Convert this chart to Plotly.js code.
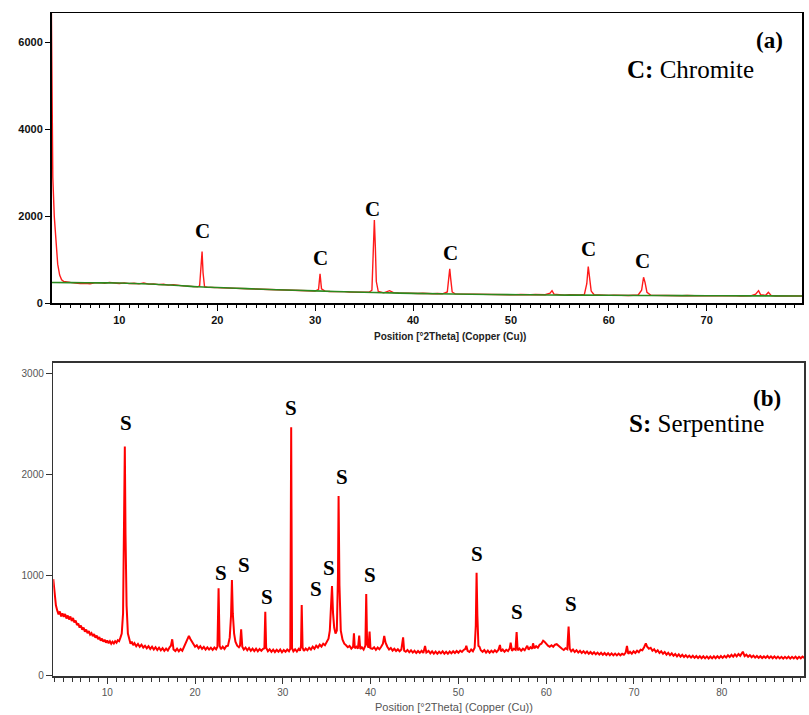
<!DOCTYPE html>
<html>
<head>
<meta charset="utf-8">
<script src="https://cdn.plot.ly/plotly-3.0.1.min.js"></script>
<style>html,body{margin:0;padding:0;background:#fff;}#chart{width:809px;height:715px;}</style>
</head>
<body>
<div id="chart"></div>
<script>
// ---------- Panel (a): chromite pattern, [2theta, counts] ----------
const chromitePattern = [
[3.05,6900],[3.12,3600],[3.2,2900],[3.35,2000],[3.5,1400],[3.7,900],[3.9,650],[4.1,540],[4.3,505],[4.6,490],
[5.0,480],[5.5,468],[6.0,455],[6.5,462],[7.0,448],[7.5,470],[8.0,476],[8.5,462],[9.0,480],[9.5,468],
[10.0,456],[10.5,470],[11.0,452],[11.5,462],[12.0,446],[12.5,468],[13.0,440],[13.5,446],[14.0,428],[14.5,438],
[15.0,418],[15.5,428],[16.0,408],[16.5,400],[17.0,394],[17.5,384],[18.0,378],[18.2,400],[18.35,800],[18.45,1188],
[18.55,700],[18.7,380],[19.0,370],[19.5,372],[20.0,360],[20.5,354],[21.0,350],[21.5,346],[22.0,344],[22.5,336],
[23.0,334],[23.5,328],[24.0,320],[24.5,324],[25.0,316],[25.5,310],[26.0,312],[26.5,300],[27.0,298],[27.5,302],
[28.0,290],[28.5,294],[29.0,285],[29.5,288],[30.0,282],[30.35,320],[30.5,675],[30.65,330],[31.0,278],[31.5,270],
[32.0,272],[32.5,262],[33.0,268],[33.5,258],[34.0,255],[34.5,262],[35.0,250],[35.5,252],[35.8,300],[35.95,1200],
[36.05,1918],[36.15,1300],[36.25,500],[36.45,270],[37.0,240],[37.6,290],[38.0,245],[38.5,238],[39.0,232],[39.5,236],
[40.0,228],[40.5,226],[41.0,230],[41.5,222],[42.0,220],[42.5,224],[43.0,218],[43.5,260],[43.65,600],[43.75,790],
[43.85,560],[44.0,260],[44.3,215],[45.0,212],[45.5,205],[46.0,210],[46.5,200],[47.0,205],[47.5,198],[48.0,200],
[48.5,195],[49.0,200],[49.5,192],[50.0,198],[50.5,195],[51.0,200],[51.5,192],[52.0,196],[52.5,200],[53.0,190],
[53.5,195],[54.0,230],[54.2,290],[54.4,210],[55.0,192],[55.5,188],[56.0,195],[56.5,185],[57.0,190],[57.5,200],
[57.75,450],[57.9,843],[58.05,600],[58.2,280],[58.5,195],[59.0,185],[59.5,190],[60.0,182],[60.5,188],[61.0,180],
[61.5,186],[62.0,178],[62.5,185],[63.0,190],[63.35,300],[63.55,599],[63.7,480],[63.9,250],[64.3,185],[65.0,180],
[65.5,176],[66.0,182],[66.5,175],[67.0,180],[67.5,172],[68.0,178],[68.5,170],[69.0,175],[69.5,170],[70.0,176],
[70.5,168],[71.0,174],[71.5,170],[72.0,175],[72.5,168],[73.0,172],[73.5,168],[74.0,175],[74.5,170],[75.0,210],
[75.3,290],[75.5,200],[76.0,180],[76.3,250],[76.6,175],[77.0,168],[77.5,172],[78.0,165],[78.5,170],[79.0,166],[79.8,168]
];
const chromiteBackground = [
[3.07,478],[5,475],[8,470],[10,466],[13,445],[16,410],[18,380],[20,362],[23,336],[26,312],[30,285],[33,265],
[36,246],[40,228],[44,214],[48,202],[52,195],[56,188],[60,183],[65,178],[70,174],[75,170],[79.8,168]
];
const chromiteLabelTheta  = [18.52, 30.5, 35.88, 43.78, 57.9, 63.42];
const chromiteLabelCounts = [1672, 1043, 2171, 1158, 1250, 974];

// ---------- Panel (b): serpentine pattern, [2theta, counts] ----------
const serpentinePattern = [
[3.85,960],[3.95,860],[4.05,760],[4.15,700],[4.3,650],[4.45,610],[4.6,640],[4.75,590],[4.9,620],[5.05,585],
[5.2,615],[5.35,570],[5.5,600],[5.65,560],[5.8,590],[5.95,545],[6.1,575],[6.25,530],[6.4,550],[6.55,505],
[6.7,520],[6.85,480],[7.0,500],[7.15,460],[7.3,480],[7.45,440],[7.6,460],[7.75,425],[7.9,445],[8.05,410],
[8.2,425],[8.35,395],[8.5,415],[8.65,380],[8.8,400],[8.95,365],[9.1,385],[9.25,350],[9.4,370],[9.55,340],
[9.7,360],[9.85,330],[10.0,352],[10.15,325],[10.3,345],[10.45,320],[10.6,340],[10.75,322],[10.9,345],[11.05,330],
[11.2,355],[11.35,345],[11.5,380],[11.65,420],[11.8,620],[11.92,1500],[12.0,2273],[12.08,1400],[12.2,700],[12.35,420],
[12.5,350],[12.65,320],[12.8,340],[12.95,305],[13.1,325],[13.3,295],[13.5,318],[13.7,290],[13.9,310],[14.1,282],
[14.3,300],[14.5,275],[14.7,296],[14.9,268],[15.1,290],[15.3,262],[15.5,285],[15.7,258],[15.9,280],[16.1,255],
[16.3,276],[16.5,250],[16.7,272],[16.9,252],[17.1,285],[17.25,300],[17.4,364],[17.55,262],[17.75,248],[17.95,270],
[18.15,245],[18.35,268],[18.55,250],[18.75,290],[18.95,330],[19.1,360],[19.3,398],[19.45,370],[19.6,345],[19.8,315],
[20.0,290],[20.2,305],[20.4,275],[20.6,295],[20.8,268],[21.0,288],[21.2,262],[21.4,284],[21.6,262],[21.8,280],
[22.0,258],[22.2,282],[22.4,265],[22.55,290],[22.68,869],[22.8,300],[22.95,265],[23.15,290],[23.35,268],[23.55,295],
[23.75,300],[23.95,380],[24.1,600],[24.2,951],[24.3,620],[24.45,420],[24.6,340],[24.8,300],[25.0,285],[25.12,300],
[25.25,463],[25.38,290],[25.55,262],[25.75,282],[25.95,255],[26.15,278],[26.35,250],[26.55,272],[26.75,248],[26.95,270],
[27.15,245],[27.35,268],[27.55,250],[27.75,270],[27.9,275],[28.0,637],[28.1,280],[28.3,245],[28.5,265],[28.7,240],
[28.9,262],[29.1,238],[29.3,260],[29.5,240],[29.7,262],[29.9,235],[30.1,258],[30.3,240],[30.5,262],[30.7,245],
[30.85,270],[30.95,2465],[31.05,275],[31.2,245],[31.4,265],[31.6,242],[31.8,268],[31.95,250],[32.07,300],[32.15,704],
[32.25,280],[32.4,248],[32.6,272],[32.8,255],[33.0,280],[33.2,262],[33.4,290],[33.6,270],[33.8,300],[34.0,282],
[34.2,310],[34.4,292],[34.6,320],[34.8,305],[35.0,340],[35.2,370],[35.35,450],[35.5,700],[35.6,892],[35.72,620],
[35.85,480],[36.0,420],[36.15,450],[36.28,1000],[36.35,1784],[36.45,900],[36.6,450],[36.8,360],[37.0,320],[37.2,305],
[37.4,285],[37.6,298],[37.8,272],[38.0,290],[38.1,423],[38.2,275],[38.4,290],[38.55,270],[38.7,400],[38.82,268],
[39.0,285],[39.2,262],[39.4,300],[39.5,813],[39.6,320],[39.75,280],[39.88,440],[39.98,275],[40.2,268],[40.4,285],
[40.6,260],[40.8,282],[41.0,265],[41.2,290],[41.4,320],[41.55,396],[41.7,330],[41.9,290],[42.1,262],[42.3,278],
[42.5,252],[42.7,270],[42.9,248],[43.1,265],[43.3,245],[43.5,262],[43.7,383],[43.82,250],[44.0,240],[44.2,258],
[44.4,235],[44.6,255],[44.8,232],[45.0,250],[45.2,228],[45.4,248],[45.6,230],[45.8,250],[46.0,228],[46.2,297],
[46.35,232],[46.6,248],[46.8,225],[47.0,245],[47.2,222],[47.4,242],[47.6,220],[47.8,240],[48.0,225],[48.2,245],
[48.4,222],[48.6,240],[48.8,220],[49.0,242],[49.2,225],[49.4,245],[49.6,228],[49.8,248],[50.0,230],[50.2,252],
[50.4,238],[50.6,258],[50.8,270],[50.9,300],[51.05,250],[51.25,238],[51.45,262],[51.65,245],[51.85,280],[51.98,500],
[52.07,1024],[52.16,600],[52.28,300],[52.4,290],[52.55,255],[52.75,240],[52.95,258],[53.15,232],[53.35,252],[53.55,230],
[53.75,250],[53.95,235],[54.15,255],[54.35,238],[54.55,258],[54.73,307],[54.85,245],[55.05,262],[55.25,240],[55.45,260],
[55.65,248],[55.85,275],[55.95,330],[56.1,250],[56.3,270],[56.5,260],[56.63,436],[56.75,255],[56.95,272],[57.15,250],
[57.35,270],[57.55,255],[57.75,280],[57.84,300],[58.0,262],[58.2,285],[58.4,270],[58.5,324],[58.65,275],[58.85,295],
[59.05,280],[59.25,310],[59.45,320],[59.65,350],[59.8,340],[60.0,315],[60.2,300],[60.4,290],[60.6,305],[60.8,290],
[61.0,310],[61.2,315],[61.4,295],[61.6,285],[61.8,270],[62.0,258],[62.2,275],[62.4,265],[62.55,489],[62.68,270],
[62.85,245],[63.05,262],[63.25,238],[63.45,255],[63.65,232],[63.85,250],[64.05,228],[64.25,246],[64.45,225],[64.65,242],
[64.85,220],[65.05,238],[65.25,218],[65.45,235],[65.65,215],[65.85,232],[66.05,212],[66.25,230],[66.45,210],[66.65,228],
[66.85,208],[67.05,226],[67.25,206],[67.45,224],[67.65,205],[67.85,222],[68.05,204],[68.25,222],[68.45,205],[68.65,220],
[68.85,210],[69.05,232],[69.2,297],[69.35,220],[69.55,240],[69.75,222],[69.95,245],[70.15,228],[70.35,250],[70.55,235],
[70.75,260],[70.95,255],[71.15,285],[71.35,324],[71.5,290],[71.7,270],[71.9,280],[72.1,250],[72.3,265],[72.5,238],
[72.7,255],[72.9,228],[73.1,245],[73.3,220],[73.5,238],[73.7,212],[73.9,230],[74.1,206],[74.3,224],[74.5,200],
[74.7,218],[74.9,195],[75.1,214],[75.3,192],[75.5,210],[75.7,188],[75.9,206],[76.1,185],[76.3,202],[76.5,182],
[76.7,200],[76.9,180],[77.1,198],[77.3,178],[77.5,196],[77.7,176],[77.9,195],[78.1,175],[78.3,194],[78.5,174],
[78.7,193],[78.9,175],[79.1,195],[79.3,176],[79.5,196],[79.7,178],[79.9,198],[80.1,180],[80.3,200],[80.5,184],
[80.7,205],[80.9,188],[81.1,210],[81.3,192],[81.5,215],[81.7,195],[81.9,218],[82.1,200],[82.4,241],[82.6,198],
[82.8,212],[83.0,190],[83.2,206],[83.4,186],[83.6,202],[83.8,182],[84.0,198],[84.2,180],[84.4,196],[84.6,178],
[84.8,194],[85.0,180],[85.2,198],[85.4,178],[85.6,195],[85.8,176],[86.0,194],[86.2,175],[86.4,192],[86.6,174],
[86.8,190],[87.0,172],[87.2,190],[87.4,174],[87.6,192],[87.8,172],[88.0,190],[88.2,174],[88.4,192],[88.6,172],
[88.8,190],[89.0,175],[89.2,192],[89.4,178]
];
const serpLabelTheta  = [12.13, 22.95, 25.6, 28.22, 30.89, 33.74, 35.28, 36.7, 39.92, 52.14, 56.7, 62.78];
const serpLabelCounts = [2507, 1021, 1095, 780, 2653, 862, 1067, 1969, 1001, 1209, 631, 714];

const topTicks = [10, 20, 30, 40, 50, 60, 70];
const topYTicks = [0, 2000, 4000, 6000];
const botTicks = [10, 20, 30, 40, 50, 60, 70, 80, 90];
const botYTicks = [0, 1000, 2000, 3000];
const xTitle = 'Position [°2Theta] (Copper (Cu))';

const col = (arr, i) => arr.map(p => p[i]);

const traces = [
  {x: col(chromitePattern,0), y: col(chromitePattern,1), type:'scatter', mode:'lines',
   line:{color:'#ff1a1a', width:1.4}, xaxis:'x', yaxis:'y', hoverinfo:'skip'},
  {x: col(chromiteBackground,0), y: col(chromiteBackground,1), type:'scatter', mode:'lines',
   line:{color:'#2a8a1e', width:1.6, shape:'spline'}, xaxis:'x', yaxis:'y', hoverinfo:'skip'},
  {x: col(serpentinePattern,0), y: col(serpentinePattern,1), type:'scatter', mode:'lines',
   line:{color:'#ff0000', width:2.0}, xaxis:'x2', yaxis:'y2', hoverinfo:'skip'}
];

const serif = '"Liberation Serif", "Times New Roman", serif';
const sans = '"Liberation Sans", Arial, sans-serif';
const annotations = [];
chromiteLabelTheta.forEach((t, i) => annotations.push({
  x: t, y: chromiteLabelCounts[i], xref:'x', yref:'y', text:'C', showarrow:false,
  xanchor:'center', yanchor:'middle', font:{family:serif, size:21, color:'#000', weight:'bold'}
}));
serpLabelTheta.forEach((t, i) => annotations.push({
  x: t, y: serpLabelCounts[i], xref:'x2', yref:'y2', text:'S', showarrow:false,
  xanchor:'center', yanchor:'middle', font:{family:serif, size:21, color:'#000', weight:'bold'}
}));
annotations.push(
  {x:0.977, y:0.9055, xref:'x domain', yref:'y domain', text:'<b>(a)</b>', showarrow:false,
   xanchor:'right', yanchor:'middle', font:{family:serif, size:23, color:'#000'}},
  {x:0.851, y:0.8045, xref:'x domain', yref:'y domain', text:'<b>C:</b> Chromite', showarrow:false,
   xanchor:'center', yanchor:'middle', font:{family:serif, size:25, color:'#000'}},
  {x:0.9716, y:0.886, xref:'x2 domain', yref:'y2 domain', text:'<b>(b)</b>', showarrow:false,
   xanchor:'right', yanchor:'middle', font:{family:serif, size:23, color:'#000'}},
  {x:0.857, y:0.8066, xref:'x2 domain', yref:'y2 domain', text:'<b>S:</b> Serpentine', showarrow:false,
   xanchor:'center', yanchor:'middle', font:{family:serif, size:25, color:'#000'}},
  {x:0.5306, y:0, xref:'x domain', yref:'y domain', text:xTitle, showarrow:false,
   xanchor:'center', yanchor:'middle', yshift:-33, font:{family:sans, size:10, color:'#222', weight:'bold'}},
  {x:0.5336, y:0, xref:'x2 domain', yref:'y2 domain', text:xTitle, showarrow:false,
   xanchor:'center', yanchor:'middle', yshift:-31, font:{family:sans, size:11, color:'#555'}}
);

const layout = {
  width: 809, height: 715,
  margin: {l:51, r:0, t:13, b:39},
  paper_bgcolor:'#fff', plot_bgcolor:'#fff',
  showlegend:false,
  xaxis: {domain:[0.0007, 0.9912], range:[3.07, 79.77], anchor:'y',
    tickmode:'array', tickvals: topTicks, ticks:'outside', ticklen:6, tickcolor:'#000',
    minor:{dtick:1, ticks:'outside', ticklen:3, tickcolor:'#000'},
    showline:true, mirror:true, linecolor:'#000', linewidth:1.5,
    showgrid:false, zeroline:false,
    tickfont:{family:sans, size:11, color:'#111', weight:'bold'}},
  yaxis: {domain:[0.5622, 1], range:[0, 6680], anchor:'x',
    tickmode:'array', tickvals: topYTicks, ticks:'outside', ticklen:5, tickcolor:'#000',
    showline:true, mirror:true, linecolor:'#000', linewidth:1.5,
    showgrid:false, zeroline:false,
    tickfont:{family:sans, size:11, color:'#111', weight:'bold'}},
  xaxis2: {domain:[0.003, 0.9938], range:[3.85, 89.4], anchor:'y2',
    tickmode:'array', tickvals: botTicks, ticks:'outside', ticklen:6, tickcolor:'#333',
    minor:{dtick:1, ticks:'outside', ticklen:4, tickcolor:'#333'},
    showline:true, mirror:true, linecolor:'#333', linewidth:1.5,
    showgrid:false, zeroline:false,
    tickfont:{family:sans, size:10, color:'#555'}},
  yaxis2: {domain:[0, 0.4726], range:[0, 3105], anchor:'x2',
    tickmode:'array', tickvals: botYTicks, ticks:'outside', ticklen:6, tickcolor:'#333',
    showline:true, mirror:true, linecolor:'#333', linewidth:1.5,
    showgrid:false, zeroline:false,
    tickfont:{family:sans, size:10, color:'#555'}},
  annotations: annotations
};

Plotly.newPlot('chart', traces, layout, {displayModeBar:false, staticPlot:true});
</script>
</body>
</html>
